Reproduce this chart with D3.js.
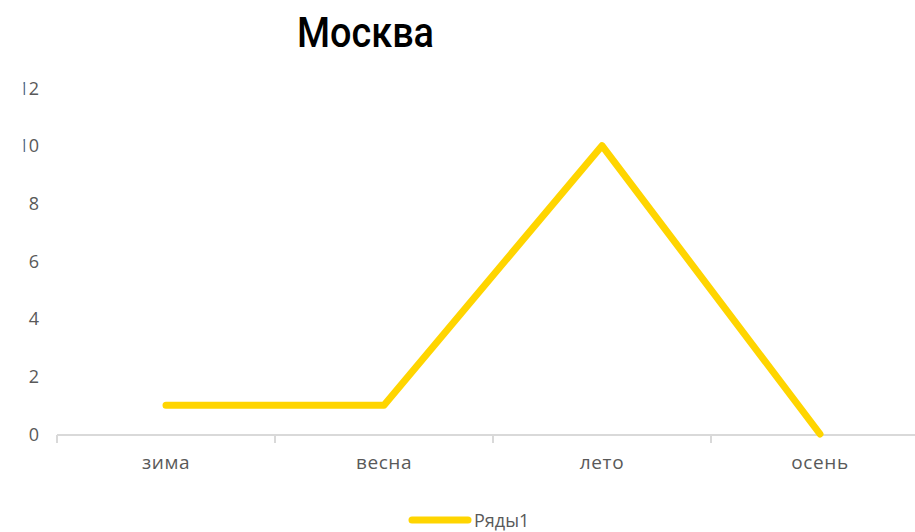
<!DOCTYPE html>
<html><head><meta charset="utf-8">
<script src="https://cdn.jsdelivr.net/npm/d3@7"></script>
<style>body{margin:0;background:#fff}svg{display:block}</style>
</head><body>
<svg id="c" width="915" height="532"></svg>
<script>
const title = "Москва";
const categories = ["зима", "весна", "лето", "осень"];
const values = [1, 1, 10, 0];
const seriesName = "Ряды1";
const yTicks = [0, 2, 4, 6, 8, 10, 12];

const svg = d3.select("#c");
const x = d3.scaleBand().domain(categories).range([57, 929]);
const y = d3.scaleLinear().domain([0, 12]).range([434, 88]);
const lineColor = "#FFD500";
const axisFont = "'Open Sans', sans-serif";

svg.append("text").attr("x", 297).attr("y", 47)
  .attr("font-family", "Roboto, sans-serif").attr("font-weight", 500)
  .attr("font-size", 42).attr("textLength", 137).attr("lengthAdjust", "spacingAndGlyphs")
  .attr("fill", "#000").text(title);

// y labels (clipped at left edge like the reference)
svg.append("clipPath").attr("id", "yclip").append("rect")
  .attr("x", 23.5).attr("y", 0).attr("width", 60).attr("height", 532);
const wrap = svg.append("g").attr("clip-path", "url(#yclip)");
const yAxis = d3.axisLeft(y).tickValues(yTicks).tickSize(0).tickPadding(0);
const yg = wrap.append("g").attr("transform", "translate(39,0)").call(yAxis);
yg.select(".domain").remove();
yg.selectAll("text").attr("font-family", axisFont).attr("font-size", 18)
  .attr("fill", "#595959").attr("dy", "0.35em");

// x axis
const xAxis = d3.axisBottom(x).tickSize(0).tickPadding(21);
const xg = svg.append("g").attr("transform", "translate(0,435)").call(xAxis);
xg.select(".domain").attr("stroke", "#d9d9d9").attr("stroke-width", 2)
  .attr("d", `M57,0H915`);
xg.selectAll("text").attr("font-family", axisFont).attr("font-size", 19)
  .attr("letter-spacing", 0.6).attr("fill", "#595959");
const bounds = categories.map(c => x(c));
xg.selectAll(".bnd").data(bounds).enter().append("line").attr("class", "bnd")
  .attr("x1", d => d).attr("x2", d => d).attr("y1", 0).attr("y2", 8)
  .attr("stroke", "#d9d9d9").attr("stroke-width", 2);

// line
const line = d3.line().x((d, i) => x(categories[i]) + x.bandwidth() / 2).y(d => y(d));
svg.append("path").datum(values).attr("d", line).attr("fill", "none")
  .attr("stroke", lineColor).attr("stroke-width", 7)
  .attr("stroke-linecap", "round").attr("stroke-linejoin", "round");

// legend
const lg = svg.append("g");
lg.append("line").attr("x1", 412).attr("x2", 468).attr("y1", 520).attr("y2", 520)
  .attr("stroke", lineColor).attr("stroke-width", 7).attr("stroke-linecap", "round");
lg.append("text").attr("x", 474).attr("y", 527).attr("font-family", axisFont)
  .attr("font-size", 18).attr("fill", "#595959").text(seriesName);
</script>
</body></html>
